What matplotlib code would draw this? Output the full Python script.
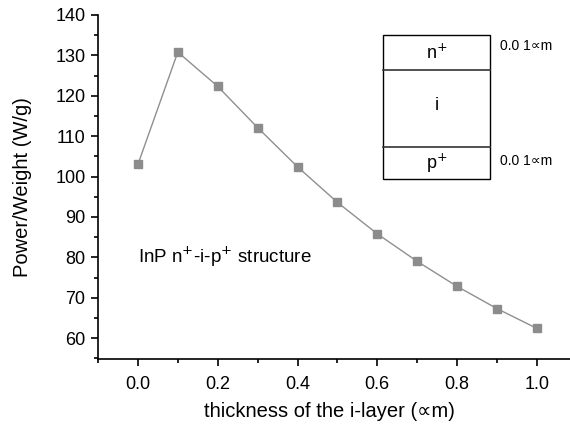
import matplotlib
matplotlib.use('Agg')
import matplotlib.pyplot as plt
from matplotlib.patches import Rectangle
from matplotlib.ticker import MultipleLocator

plt.rcParams['font.family'] = ['Liberation Sans', 'DejaVu Sans']

# thickness of the i-layer (um) vs power/weight (W/g)
thickness = [0.0, 0.1, 0.2, 0.3, 0.4, 0.5, 0.6, 0.7, 0.8, 0.9, 1.0]
power_weight = [103.0, 130.8, 122.3, 112.1, 102.4, 93.6, 85.8, 79.0, 72.8, 67.3, 62.4]
xticks = [0.0, 0.2, 0.4, 0.6, 0.8, 1.0]
yticks = [60, 70, 80, 90, 100, 110, 120, 130, 140]

fig = plt.figure(figsize=(5.7, 4.26), dpi=100)
ax = fig.add_axes([0.172, 0.157, 0.828, 0.808])

ax.plot(thickness, power_weight, color='#8f8f8f', lw=1.0, marker='s',
        markersize=6, markerfacecolor='#8c8c8c', markeredgecolor='#8c8c8c')

ax.set_xlim(-0.1, 1.083)
ax.set_ylim(54.8, 140)
ax.set_xticks(xticks)
ax.set_yticks(yticks)
ax.xaxis.set_minor_locator(MultipleLocator(0.1))
ax.yaxis.set_minor_locator(MultipleLocator(5))
ax.set_xticklabels(['%.1f' % v for v in xticks])
ax.tick_params(which='major', direction='out', length=5, width=1.2, labelsize=13)
ax.tick_params(which='minor', direction='out', length=3, width=1.2)
ax.tick_params(axis='x', pad=7)
ax.tick_params(axis='y', pad=4)
for s in ['top', 'right']:
    ax.spines[s].set_visible(False)
for s in ['left', 'bottom']:
    ax.spines[s].set_linewidth(1.2)

ax.set_xlabel('thickness of the i-layer (\u221dm)', fontsize=14.5)
ax.set_ylabel('Power/Weight (W/g)', fontsize=14.5)
ax.xaxis.set_label_coords(0.49, -0.125)
ax.yaxis.set_label_coords(-0.14, 0.5)

ax.text(0.0, 80, 'InP n$^{+}$-i-p$^{+}$ structure', fontsize=13.5, va='center', ha='left')

# layer structure sketch
bx0, bx1 = 0.614, 0.882
ax.add_patch(Rectangle((bx0, 99.3), bx1 - bx0, 135.1 - 99.3, fill=False, lw=1.0, ec='black'))
ax.plot([bx0, bx1], [126.4, 126.4], color='#333333', lw=1.2)
ax.plot([bx0, bx1], [107.2, 107.2], color='#333333', lw=1.2)
bxc = (bx0 + bx1) / 2
ax.text(bxc, 130.6, 'n$^{+}$', fontsize=13, ha='center', va='center')
ax.text(bxc, 117.5, 'i', fontsize=13, ha='center', va='center')
ax.text(bxc, 103.2, 'p$^{+}$', fontsize=13, ha='center', va='center')
ax.text(0.907, 132.4, '0.0 1\u221dm', fontsize=10, ha='left', va='center')
ax.text(0.907, 103.9, '0.0 1\u221dm', fontsize=10, ha='left', va='center')

fig.savefig('out.png', dpi=100)
